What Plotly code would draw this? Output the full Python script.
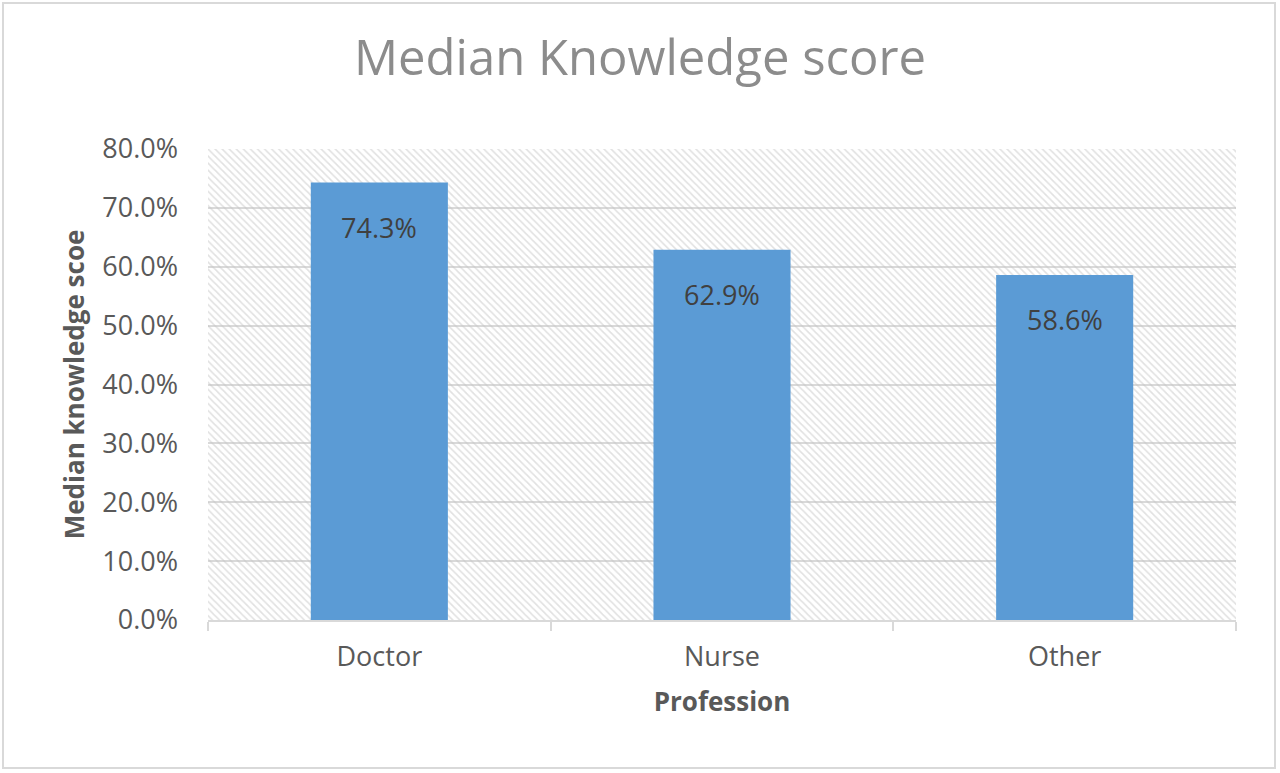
import plotly.graph_objects as go

categories = ["Doctor", "Nurse", "Other"]
scores = [0.743, 0.629, 0.586]
y_ticks = [0.0, 0.1, 0.2, 0.3, 0.4, 0.5, 0.6, 0.7, 0.8]

FONT = "Open Sans"
L, R, T, B = 208, 44, 149, 153
W, H = 1280, 773
pw, ph = W - L - R, H - T - B

fig = go.Figure()

# hatched plot-area background (decoration spanning all categories)
fig.add_trace(go.Bar(
    x=[categories[1]], y=[max(y_ticks)], width=[len(categories)],
    marker=dict(color="rgba(0,0,0,0)", line=dict(width=0),
                pattern=dict(shape="\\", fgcolor="#c4c4c4",
                             bgcolor="rgba(0,0,0,0)",
                             size=5, solidity=0.33)),
    hoverinfo="skip", showlegend=False,
))

fig.add_trace(go.Bar(
    x=categories, y=scores,
    marker=dict(color="#5b9bd5", line=dict(width=0)),
    showlegend=False,
))

annotations = [
    dict(x=c, y=v, xref="x", yref="y", text=f"{v * 100:.1f}%",
         showarrow=False, yanchor="middle", yshift=-45,
         font=dict(family=FONT, size=27, color="#404040"))
    for c, v in zip(categories, scores)
]

fig.update_layout(
    width=W, height=H,
    margin=dict(l=L, r=R, t=T, b=B),
    paper_bgcolor="white", plot_bgcolor="white",
    bargap=0.6, barmode="overlay",
    title=dict(text="Median Knowledge score", x=0.5, xanchor="center",
               y=1 - 58 / H, yanchor="middle",
               font=dict(family=FONT, size=49, color="#8c8c8c")),
    xaxis=dict(
        type="category", categoryorder="array", categoryarray=categories,
        tickson="boundaries", ticks="outside", ticklen=9,
        tickcolor="#d9d9d9", tickwidth=2, showline=True, linecolor="#d9d9d9",
        linewidth=2, showgrid=False, ticklabelstandoff=12,
        range=[-0.5, len(categories) - 0.5],
        tickfont=dict(family=FONT, size=27, color="#595959"),
        title=dict(text="<b>Profession</b>", standoff=19,
                   font=dict(family=FONT, size=26, color="#595959")),
    ),
    yaxis=dict(
        range=[0, 0.8], tickvals=y_ticks, tickformat=".1%",
        showgrid=True, gridcolor="#d9d9d9", gridwidth=2, zeroline=False,
        showline=False, ticks="", ticklabelstandoff=29,
        tickfont=dict(family=FONT, size=27, color="#595959"),
        title=dict(text="<b>Median knowledge scoe</b>", standoff=10,
                   font=dict(family=FONT, size=26, color="#595959")),
    ),
    annotations=annotations,
    shapes=[dict(
        type="rect", xref="paper", yref="paper", layer="above",
        x0=(3 - L) / pw, x1=(1275 - L) / pw,
        y0=(H - B - 768) / ph, y1=(H - B - 3) / ph,
        line=dict(color="#d9d9d9", width=2), fillcolor="rgba(0,0,0,0)",
    )],
)

fig.write_html("out.html", config={"displayModeBar": False},
               post_script="document.body.style.margin='0';")
